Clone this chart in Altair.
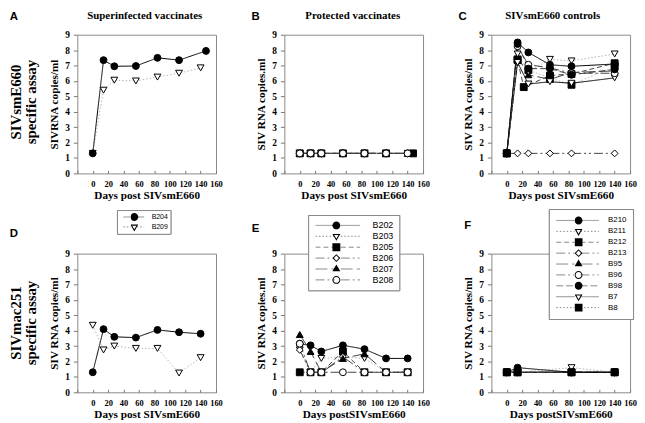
import altair as alt
import pandas as pd

# ---------------- data: log10 SIV RNA copies/ml vs days post SIVsmE660 ----------------
# Panel A: SIVsmE660-specific assay, superinfected vaccinates
a_days_b204 = [0, 14, 28, 56, 84, 112, 147]
a_b204 = [1.3, 7.35, 6.95, 6.97, 7.5, 7.35, 7.95]
a_days_b209 = [0, 14, 28, 56, 84, 112, 140]
a_b209 = [1.3, 5.4, 6.05, 6.0, 6.25, 6.5, 6.85]

# Panel B: SIVsmE660-specific assay, protected vaccinates
b_days = [0, 14, 28, 56, 84, 112, 140]
b_days_b205 = [0, 14, 28, 56, 84, 112, 147]
b_b202 = [1.3, 1.3, 1.3, 1.3, 1.3, 1.3, 1.3]
b_b203 = [1.3, 1.3, 1.3, 1.3, 1.3, 1.3, 1.3]
b_b205 = [1.3, 1.3, 1.3, 1.3, 1.3, 1.3, 1.3]
b_b206 = [1.3, 1.3, 1.3, 1.3, 1.3, 1.3, 1.3]
b_b207 = [1.3, 1.3, 1.3, 1.3, 1.3, 1.3, 1.3]
b_b208 = [1.3, 1.3, 1.3, 1.3, 1.3, 1.3, 1.3]

# Panel C: SIVsmE660-specific assay, SIVsmE660 controls
c_days = [0, 14, 28, 56, 84, 140]
c_days_b212 = [0, 14, 22, 56, 84, 140]
c_b210 = [1.3, 8.5, 7.85, 7.05, 6.95, 7.1]
c_b211 = [1.3, 7.75, 6.6, 7.4, 7.3, 7.75]
c_b212 = [1.3, 7.35, 5.6, 6.35, 6.45, 7.15]
c_b213 = [1.3, 1.3, 1.3, 1.3, 1.3, 1.3]
c_b95 = [1.3, 7.55, 6.4, 6.1, 6.55, 6.65]
c_b96 = [1.3, 8.25, 7.05, 6.85, 6.5, 6.5]
c_b98 = [1.3, 8.4, 6.8, 6.8, 6.4, 6.75]
c_b7 = [1.3, 7.2, 5.8, 5.95, 5.85, 6.2]
c_b8 = [1.3, 7.4, 6.7, 6.2, 5.75, 6.95]

# Panel D: SIVmac251-specific assay, superinfected vaccinates
d_days = [0, 14, 28, 56, 84, 112, 140]
d_b204 = [1.3, 4.1, 3.6, 3.55, 4.05, 3.9, 3.8]
d_b209 = [4.35, 2.75, 3.0, 2.85, 2.85, 1.25, 2.25]

# Panel E: SIVmac251-specific assay, protected vaccinates
e_days = [0, 14, 28, 56, 84, 112, 140]
e_b202 = [3.15, 3.05, 2.65, 3.05, 2.8, 2.2, 2.2]
e_b203 = [2.75, 1.3, 2.2, 2.3, 2.2, 1.3, 1.3]
e_b205 = [1.3, 1.3, 1.3, 2.65, 1.3, 1.3, 1.3]
e_b206 = [2.75, 1.3, 1.3, 2.3, 1.3, 1.3, 1.3]
e_b207 = [3.75, 2.65, 1.3, 2.2, 2.5, 1.3, 1.3]
e_b208 = [3.15, 1.3, 1.3, 1.3, 1.3, 1.3, 1.3]

# Panel F: SIVmac251-specific assay, SIVsmE660 controls
f_days = [0, 14, 84, 140]
f_b210 = [1.3, 1.6, 1.3, 1.3]
f_b211 = [1.3, 1.3, 1.6, 1.3]
f_b212 = [1.3, 1.3, 1.3, 1.3]
f_b213 = [1.3, 1.3, 1.3, 1.3]
f_b95 = [1.3, 1.3, 1.3, 1.3]
f_b96 = [1.3, 1.3, 1.3, 1.3]
f_b98 = [1.3, 1.3, 1.3, 1.3]
f_b7 = [1.3, 1.3, 1.3, 1.3]
f_b8 = [1.3, 1.3, 1.3, 1.3]

vacc_series = ["B204", "B209"]
prot_series = ["B202", "B203", "B205", "B206", "B207", "B208"]
ctrl_series = ["B210", "B211", "B212", "B213", "B95", "B96", "B98", "B7", "B8"]

# ---------------- styles ----------------
SOLID, DOT, DASH = [1, 0], [1.5, 2], [5, 3]
DASHDOT2, LONG, DASHDOT, MED = [9, 3, 2, 3, 2, 3], [12, 4], [9, 3, 2, 3], [7, 3]
STY = {  # shape, fill, dash, line colour
    "B204": ("circle", "black", SOLID, "black"),
    "B209": ("triangle-down", "white", DOT, "#b5b5b5"),
    "B202": ("circle", "black", SOLID, "black"),
    "B203": ("triangle-down", "white", DOT, "#b5b5b5"),
    "B205": ("square", "black", DASH, "#444"),
    "B206": ("diamond", "white", DASHDOT2, "#444"),
    "B207": ("triangle-up", "black", LONG, "#444"),
    "B208": ("circle", "white", DASHDOT, "#444"),
    "B210": ("circle", "black", SOLID, "black"),
    "B211": ("triangle-down", "white", DOT, "#b5b5b5"),
    "B212": ("square", "black", DASH, "#444"),
    "B213": ("diamond", "white", DASHDOT2, "#444"),
    "B95": ("triangle-up", "black", LONG, "#444"),
    "B96": ("circle", "white", DASHDOT, "#444"),
    "B98": ("circle", "black", MED, "#444"),
    "B7": ("triangle-down", "white", SOLID, "black"),
    "B8": ("square", "black", DOT, "#b5b5b5"),
}

SERIF = "Liberation Serif"
SANS = "Liberation Sans"
W, H = 140, 140


# legend marker glyphs (unit square coordinates): solid outline for filled markers,
# hollow ring for open markers
def _poly(pts):
    return "M" + "L".join(f"{x:.3f},{y:.3f}" for x, y in pts) + "Z"


def _circle(r, sweep):
    return (f"M{r:.3f},0A{r:.3f},{r:.3f} 0 1,{sweep} {-r:.3f},0"
            f"A{r:.3f},{r:.3f} 0 1,{sweep} {r:.3f},0Z")


def _outline(shape, k):
    if shape == "square":
        return [(-k, -k), (k, -k), (k, k), (-k, k)]
    if shape == "diamond":
        return [(-k, 0), (0, -k), (k, 0), (0, k)]
    if shape == "triangle-up":
        return [(0, -1.155 * k), (k, 0.577 * k), (-k, 0.577 * k)]
    return [(0, 1.155 * k), (-k, -0.577 * k), (k, -0.577 * k)]  # triangle-down


def glyph(shape, fill):
    if shape == "circle":
        outer, inner = _circle(1.14, 1), _circle(0.85, 0)
    else:
        ko = 1.14
        ki = {"square": 0.85, "diamond": 0.74}.get(shape, 0.62)
        outer = _poly(_outline(shape, ko))
        inner = _poly(list(reversed(_outline(shape, ki))))
    return outer if fill == "black" else outer + inner


def frame(pairs):
    rows = []
    for name, days, vals in pairs:
        for d, v in zip(days, vals):
            rows.append({"day": d, "value": v, "sl": name, "sp": name, "sq": name})
    return pd.DataFrame(rows)


def make_legends(lx, ly, L, mdx, font, rowh, pad, soff, loff):
    g = 3.0 / (L / 2.0)
    path = f"M-1,0H{-g:.3f}M{g:.3f},0H1"
    line_leg = alt.Legend(orient="none", legendX=lx, legendY=ly, title=None,
                          symbolType=path, symbolSize=L * L, symbolStrokeWidth=1,
                          symbolOffset=soff, clipHeight=rowh, rowPadding=0,
                          labelFont=SANS, labelFontSize=font, labelColor="black",
                          labelOffset=loff, padding=pad,
                          strokeColor="#888", fillColor="white", labelLimit=0)
    pt_leg = alt.Legend(orient="none", legendX=lx + mdx, legendY=ly, title=None,
                        symbolSize=49, symbolStrokeWidth=0, symbolFillColor="black",
                        clipHeight=rowh, rowPadding=0, labelExpr="''",
                        labelFont=SANS, labelFontSize=font, padding=pad, labelLimit=0)
    return line_leg, pt_leg


def text_layer(t, x, y, size, font, angle=0, lh=15):
    return alt.Chart(pd.DataFrame({"t": [t]})).mark_text(
        font=font, fontSize=size, fontWeight="bold", angle=angle, align="center",
        baseline="middle", lineBreak="\n", lineHeight=lh, color="black"
    ).encode(x=alt.value(x), y=alt.value(y), text="t:N")


def panel(pairs, series, ytitle, xtitle, texts, leg=None):
    df = frame(pairs)
    shapes = [STY[s][0] for s in series]
    fills = [STY[s][1] for s in series]
    dashes = [STY[s][2] for s in series]
    colors = [STY[s][3] for s in series]
    xs = alt.X("day:Q", scale=alt.Scale(domain=[-20, 160], nice=False, zero=False),
               axis=alt.Axis(title=xtitle, values=list(range(-20, 161, 20)),
                             labelExpr="datum.value < 0 ? '' : datum.label",
                             offset=-3, tickSize=3, tickColor="#777", domain=False, grid=False,
                             labelFont=SERIF, labelFontWeight="bold", labelFontSize=8.5,
                             labelPadding=6.5, labelColor="black", labelOverlap=False,
                             labelFlush=False, titleFont=SERIF, titleFontWeight="bold",
                             titleFontSize=11.3, titlePadding=1, titleColor="black"))
    ys = alt.Y("value:Q", scale=alt.Scale(domain=[0, 9], nice=False),
               axis=alt.Axis(title=ytitle, values=list(range(10)), tickSize=4,
                             tickColor="#777", domain=False, grid=False, labelFont=SERIF,
                             labelFontWeight="bold", labelFontSize=9.5, labelPadding=4,
                             labelColor="black", labelFlush=False, labelOverlap=False,
                             titleFont=SERIF, titleFontWeight="bold", titleFontSize=11.3,
                             titlePadding=5, titleColor="black"))
    base = alt.Chart(df)
    line_leg, pt_leg = make_legends(*leg) if leg else (None, None)
    line = base.mark_line(strokeWidth=1).encode(
        x=xs, y=ys,
        stroke=alt.Stroke("sl:N", sort=series, scale=alt.Scale(range=colors), legend=line_leg),
        strokeDash=alt.StrokeDash("sl:N", sort=series, scale=alt.Scale(range=dashes), legend=line_leg),
        order="day:Q",
    )
    pts = base.mark_point(size=48, opacity=1, strokeWidth=1, stroke="black").encode(
        x=xs, y=ys,
        shape=alt.Shape("sp:N", sort=series, scale=alt.Scale(range=shapes), legend=None),
        fill=alt.Fill("sp:N", sort=series, scale=alt.Scale(range=fills), legend=None),
    )
    layers = [line, pts]
    if leg:
        glyphs = [glyph(STY[s][0], STY[s][1]) for s in series]
        key = base.transform_filter("false").mark_point(filled=True, color="black", opacity=1).encode(
            x=xs, y=ys,
            shape=alt.Shape("sq:N", scale=alt.Scale(domain=series, range=glyphs), legend=pt_leg),
        )
        layers.append(key)
    layers += [text_layer(*t) for t in texts]
    return (alt.layer(*layers).resolve_scale(shape="independent", fill="independent")
            .properties(width=W, height=H))


pA = panel([("B209", a_days_b209, a_b209), ("B204", a_days_b204, a_b204)], vacc_series,
           "SIVRNA copies/ml", "Days post SIVsmE660",
           [("A", -64, -18, 11.5, SANS), ("Superinfected vaccinates", 68, -18.5, 11, SERIF),
            ("SIVsmE660\nspecific assay", -62, 68, 15, SERIF, 270, 15)])
pB = panel([("B202", b_days, b_b202), ("B203", b_days, b_b203), ("B206", b_days, b_b206),
            ("B207", b_days, b_b207), ("B205", b_days_b205, b_b205), ("B208", b_days, b_b208)],
           prot_series, "SIV RNA copies.ml", "Days post SIVsmE660",
           [("B", -29, -18, 11.5, SANS), ("Protected vaccinates", 69, -18.5, 11, SERIF)])
pC = panel([("B8", c_days, c_b8), ("B212", c_days_b212, c_b212), ("B95", c_days, c_b95),
            ("B7", c_days, c_b7), ("B211", c_days, c_b211), ("B213", c_days, c_b213),
            ("B96", c_days, c_b96), ("B98", c_days, c_b98), ("B210", c_days, c_b210)],
           ctrl_series, "SIV RNA copies/ml", "Days post SIVsmE660",
           [("C", -29, -18, 11.5, SANS), ("SIVsmE660 controls", 62, -18.5, 11, SERIF)])
pD = panel([("B209", d_days, d_b209), ("B204", d_days, d_b204)], vacc_series,
           "SIV RNA copies/ml", "Days post SIVsmE660",
           [("D", -64, -20, 11.5, SANS), ("SIVmac251\nspecific assay", -62, 70, 15, SERIF, 270, 15)],
           leg=(40, -44, 21, 12, 7, 10, 2, 4, 7))
pE = panel([("B202", e_days, e_b202), ("B203", e_days, e_b203), ("B205", e_days, e_b205),
            ("B206", e_days, e_b206), ("B207", e_days, e_b207), ("B208", e_days, e_b208)],
           prot_series, "SIV RNA copies.ml", "Days postSIVsmE660",
           [("E", -29, -25, 11.5, SANS)],
           leg=(24, -39, 45, 19, 9, 11, 5, 2, 12))
pF = panel([("B8", f_days, f_b8), ("B212", f_days, f_b212), ("B213", f_days, f_b213),
            ("B95", f_days, f_b95), ("B96", f_days, f_b96), ("B7", f_days, f_b7),
            ("B211", f_days, f_b211), ("B98", f_days, f_b98), ("B210", f_days, f_b210)],
           ctrl_series, "SIV RNA copies/ml", "Days postSIVsmE660",
           [("F", -24, -28, 11.5, SANS)],
           leg=(58, -45, 43, 20, 8, 11, 6, 1, 8.7))

IND = dict(stroke="independent", strokeDash="independent", shape="independent", fill="independent")

chart = (
    alt.concat(pA, pB, pC, pD, pE, pF, columns=3,
               spacing=alt.RowColnumber(row=81, column=69), bounds="flush")
    .resolve_scale(**IND).resolve_legend(**IND)
    .properties(padding=0, background="white")
    .configure_view(stroke="#8a8a8a", strokeWidth=1)
)

chart.save("out.html", embed_options={"renderer": "svg", "actions": False})
